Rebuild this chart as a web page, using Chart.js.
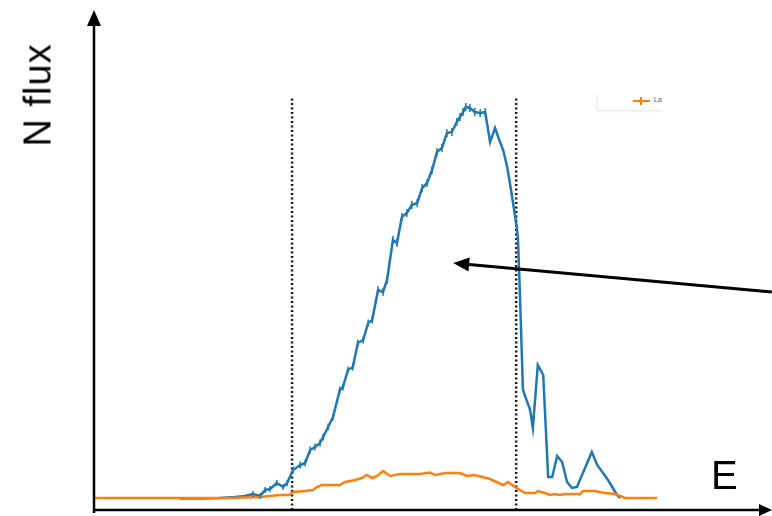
<!DOCTYPE html>
<html>

<head>
    <meta charset="utf-8">
    <script src="https://cdn.jsdelivr.net/npm/chart.js"></script>
    <title>N flux</title>
    <style>
        body {
            margin: 0;
            background: #fff;
            font-family: "Liberation Sans", Arial, sans-serif;
        }

        .wrap {
            position: relative;
            width: 772px;
            height: 516px;
        }

        .ylabel {
            position: absolute;
            left: 38px;
            top: 95px;
            font-size: 38px;
            color: #000;
            transform: translate(-50%, -50%) rotate(-90deg);
            white-space: nowrap;
            letter-spacing: 1px;
        }

        .xlabel {
            position: absolute;
            left: 711px;
            top: 453px;
            font-size: 40px;
            color: #000;
        }

        .legend {
            position: absolute;
            left: 598px;
            top: 93px;
            width: 64px;
            height: 17px;
            box-shadow: -1px 1px 2px rgba(0, 0, 0, 0.12);
        }

        .legend .ln {
            position: absolute;
            left: 35px;
            top: 7px;
            width: 17px;
            height: 2px;
            background: #ff7f0e;
        }

        .legend .tk {
            position: absolute;
            left: 42px;
            top: 4px;
            width: 2px;
            height: 8px;
            background: #ff7f0e;
        }

        .legend .tx {
            position: absolute;
            left: 56px;
            top: 3px;
            font-size: 7px;
            color: #555;
        }
    </style>
</head>

<body>
    <div class="wrap">
        <canvas id="chart" width="772" height="516"></canvas>
        <div class="ylabel">N flux</div>
        <div class="xlabel">E</div>
        <div class="legend"><span class="ln"></span><span class="tk"></span><span class="tx">La</span></div>
    </div>
    <script>
        // blue series (with error bars)
        const blueE = [18.9, 23.3, 27.8, 31.1, 33.3, 35.1, 36.7, 37.8, 38.9, 40.4, 41.8, 42.7, 44.0, 45.6, 46.7, 47.8,
            48.9, 50.0, 50.7, 51.8, 52.9, 54.4, 55.1, 56.2, 57.3, 58.4, 59.6, 60.7, 61.6, 62.9, 64.0, 64.9, 66.2, 67.1,
            68.2, 69.3, 70.4, 71.6, 72.7, 73.8, 74.9, 76.0, 77.1, 78.2, 79.3, 80.4, 81.1, 81.8, 82.4, 83.3, 84.4, 85.6,
            86.7, 87.8, 88.9, 89.6, 90.7, 91.6, 92.2, 92.9, 93.8, 94.0, 94.4, 95.1, 96.7, 97.3, 98.4, 99.6, 100.7, 101.6,
            102.7, 103.8, 104.9, 106.0, 107.1, 110.4, 111.6, 112.9, 114.0, 116.0, 116.7]
        const blueFlux = [2.3, 2.3, 2.4, 2.6, 2.8, 3.2, 2.8, 4.0, 4.2, 5.4, 4.6, 5.4, 8.0, 9.0, 9.4, 12.0,
            12.6, 13.4, 14.6, 16.6, 18.6, 24.0, 24.6, 28.0, 28.6, 33.4, 34.0, 37.4, 38.0, 44.0, 43.6, 46.0, 54.0, 53.4,
            58.6, 59.4, 61.0, 61.4, 64.4, 65.4, 68.0, 71.6, 72.4, 75.4, 75.6, 77.6, 78.6, 79.6, 80.6, 80.4, 79.6, 79.4,
            79.6, 73.6, 76.4, 74.6, 72.0, 68.6, 65.4, 61.4, 56.0, 54.0, 44.0, 24.0, 20.0, 16.4, 29.0, 27.0, 6.6, 6.6,
            10.8, 9.6, 5.6, 4.4, 4.6, 11.6, 9.0, 7.4, 6.0, 3.0, 2.4]
        const blueErr = [0, 0, 0, 0, 0, 0.6, 0.6, 0.6, 0.6, 0.6, 0.6, 0.6, 0.7, 0.7, 0.7, 0.7,
            0.7, 0.7, 0.7, 0.7, 0.7, 0.7, 0.7, 0.7, 0.7, 0.7, 0.7, 0.7, 0.7, 0.8, 0.8, 0.8, 0.8, 0.8,
            0.8, 0.8, 0.8, 0.8, 0.8, 0.8, 0.8, 0.8, 0.8, 0.8, 0.8, 0.8, 0.8, 0.8, 0.8, 0.8, 0.8, 0.8,
            0.8, 0, 0, 0, 0, 0, 0, 0, 0, 0, 0, 0, 0, 0, 0, 0, 0, 0,
            0, 0, 0, 0, 0, 0, 0, 0, 0, 0, 0]

        // orange series "La"
        const orangeE = [0, 30.0, 36.7, 41.1, 43.3, 44.0, 46.7, 48.4, 49.3, 50.4, 54.4, 55.6, 56.7, 57.8, 59.3, 60.4,
            61.6, 62.7, 64.0, 65.6, 67.8, 72.2, 74.4, 75.6, 77.8, 81.1, 82.7, 84.4, 87.8, 90.7, 91.8, 93.3, 95.6, 97.8,
            98.4, 100.0, 101.1, 102.2, 103.3, 104.4, 107.8, 108.4, 111.1, 113.3, 115.6, 116.7, 117.8, 124.9]
        const orangeFlux = [2.4, 2.4, 2.6, 3.0, 3.0, 3.6, 3.8, 4.0, 4.6, 5.0, 5.0, 5.6, 5.8, 6.0, 6.4, 7.0,
            6.4, 6.8, 7.8, 6.8, 7.2, 7.2, 7.5, 7.0, 7.4, 7.4, 6.8, 7.0, 6.2, 5.0, 5.6, 4.6, 3.4, 3.4,
            3.8, 3.4, 3.0, 3.2, 3.0, 3.2, 3.2, 3.8, 3.8, 3.4, 3.2, 2.8, 2.4, 2.4]

        // window edges (dotted lines) and the pointer arrow
        const windowE = [43.8, 93.6]
        const windowTop = 82.6
        const arrowFrom = { x: 150.4, y: 43.6 }
        const arrowTo = { x: 79.6, y: 49.4 }

        const toPts = (xs, ys) => xs.map((x, i) => ({ x: x, y: ys[i] }))

        const windowSets = windowE.map(e => ({
            data: [{ x: e, y: 0 }, { x: e, y: windowTop }],
            borderColor: '#1a1a1a',
            borderWidth: 2.5,
            borderDash: [2, 2.5],
            pointRadius: 0,
            order: 3
        }))

        const errorBars = {
            id: 'errorBars',
            afterDatasetsDraw(chart) {
                const meta = chart.getDatasetMeta(1)
                const ys = chart.scales.y
                const ctx = chart.ctx
                ctx.save()
                ctx.strokeStyle = '#1f77b4'
                ctx.lineWidth = 1.5
                meta.data.forEach((pt, i) => {
                    if (!blueErr[i]) return
                    ctx.beginPath()
                    ctx.moveTo(pt.x, ys.getPixelForValue(blueFlux[i] + blueErr[i]))
                    ctx.lineTo(pt.x, ys.getPixelForValue(blueFlux[i] - blueErr[i]))
                    ctx.stroke()
                })
                ctx.restore()
            }
        }

        const axesAndArrow = {
            id: 'axesAndArrow',
            afterDraw(chart) {
                const ctx = chart.ctx
                const a = chart.chartArea
                const xs = chart.scales.x
                const ys = chart.scales.y
                const left = a.left - 1
                ctx.save()
                ctx.strokeStyle = '#000'
                ctx.fillStyle = '#000'
                ctx.lineWidth = 2.5
                // y axis
                ctx.beginPath()
                ctx.moveTo(left, a.bottom + 3)
                ctx.lineTo(left, a.top + 12)
                ctx.stroke()
                ctx.beginPath()
                ctx.moveTo(left, a.top)
                ctx.lineTo(left - 7, a.top + 16)
                ctx.lineTo(left + 7, a.top + 16)
                ctx.closePath()
                ctx.fill()
                // x axis
                ctx.beginPath()
                ctx.moveTo(left - 1, a.bottom)
                ctx.lineTo(a.right - 8, a.bottom)
                ctx.stroke()
                ctx.beginPath()
                ctx.moveTo(a.right + 2, a.bottom)
                ctx.lineTo(a.right - 11, a.bottom - 6)
                ctx.lineTo(a.right - 11, a.bottom + 6)
                ctx.closePath()
                ctx.fill()
                // pointer arrow
                const x1 = xs.getPixelForValue(arrowFrom.x), y1 = ys.getPixelForValue(arrowFrom.y)
                const x2 = xs.getPixelForValue(arrowTo.x), y2 = ys.getPixelForValue(arrowTo.y)
                const ang = Math.atan2(y2 - y1, x2 - x1)
                const hl = 16, hw = 7
                const bx = x2 - hl * Math.cos(ang), by = y2 - hl * Math.sin(ang)
                ctx.lineWidth = 3
                ctx.beginPath()
                ctx.moveTo(x1, y1)
                ctx.lineTo(bx, by)
                ctx.stroke()
                ctx.beginPath()
                ctx.moveTo(x2, y2)
                ctx.lineTo(bx + hw * Math.sin(ang), by - hw * Math.cos(ang))
                ctx.lineTo(bx - hw * Math.sin(ang), by + hw * Math.cos(ang))
                ctx.closePath()
                ctx.fill()
                ctx.restore()
            }
        }

        new Chart(document.getElementById('chart'), {
            type: 'line',
            data: {
                datasets: [{
                    label: 'La',
                    data: toPts(orangeE, orangeFlux),
                    borderColor: '#ff7f0e',
                    borderWidth: 2.5,
                    pointRadius: 0,
                    tension: 0,
                    order: 1
                }, {
                    label: 'N',
                    data: toPts(blueE, blueFlux),
                    borderColor: '#1f77b4',
                    borderWidth: 2.5,
                    pointRadius: 0,
                    tension: 0,
                    order: 2
                }].concat(windowSets)
            },
            options: {
                responsive: false,
                animation: false,
                layout: { padding: { left: 95, right: 2, top: 10, bottom: 6 } },
                plugins: { legend: { display: false }, tooltip: { enabled: false } },
                scales: {
                    x: { type: 'linear', min: 0, max: 150, display: false },
                    y: { min: 0, max: 100, display: false }
                }
            },
            plugins: [errorBars, axesAndArrow]
        })
    </script>
</body>

</html>
